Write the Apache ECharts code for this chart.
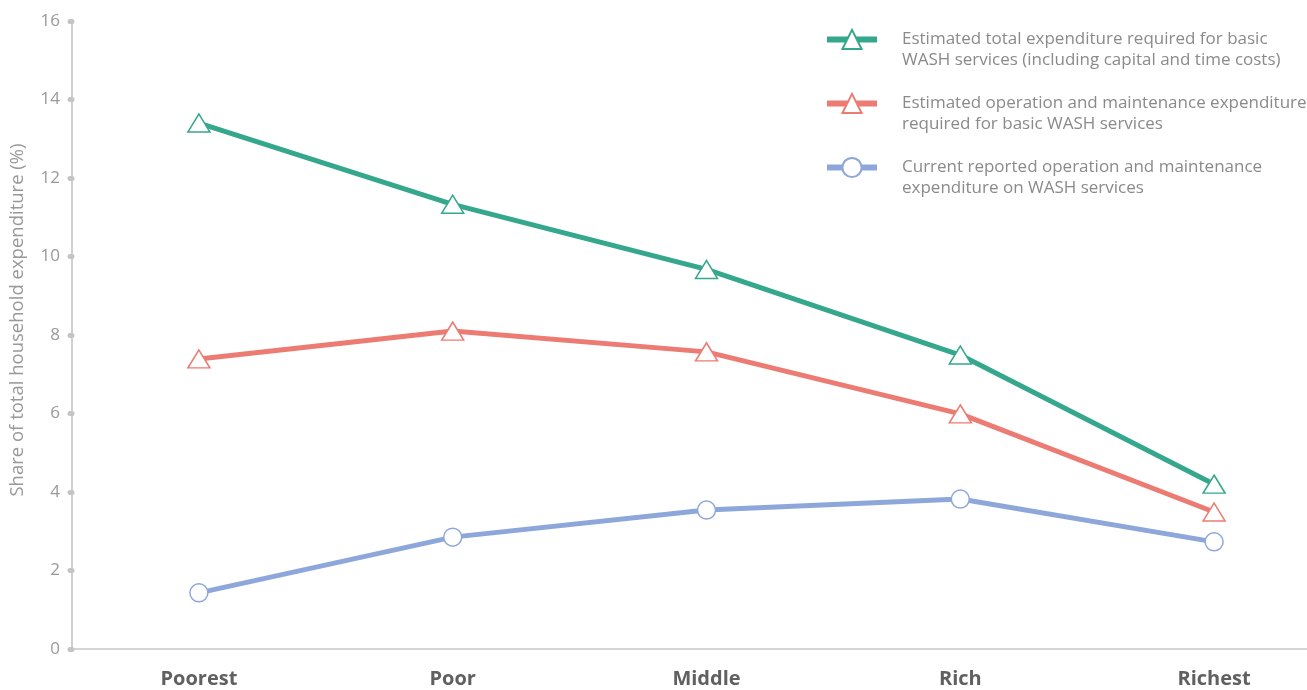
<!DOCTYPE html>
<html>
<head>
<meta charset="utf-8">
<script src="https://cdn.jsdelivr.net/npm/echarts@6/dist/echarts.min.js"></script>
<style>
  html, body { margin: 0; padding: 0; background: #fff; }
  #chart { width: 1307px; height: 690px; }
</style>
</head>
<body>
<div id="chart"></div>
<script>
  const groups = ['Poorest', 'Poor', 'Middle', 'Rich', 'Richest'];
  const totalRequired = [13.4, 11.33, 9.67, 7.49, 4.2];
  const omRequired = [7.39, 8.1, 7.57, 5.99, 3.49];
  const omReported = [1.43, 2.85, 3.54, 3.82, 2.73];
  const seriesNames = [
    'Estimated total expenditure required for basic\nWASH services (including capital and time costs)',
    'Estimated operation and maintenance expenditure\nrequired for basic WASH services',
    'Current reported operation and maintenance\nexpenditure on WASH services',
  ];
  const yTicks = { min: 0, max: 16, interval: 2 };

  const green = '#35a78c';
  const red = '#ec7c73';
  const blue = '#8ea7da';

  const lineSeries = (name, data, color, symbol, size) => ({
    name: name,
    type: 'line',
    data: data,
    symbol: symbol,
    symbolSize: size,
    showAllSymbol: true,
    lineStyle: { color: color, width: 5 },
    itemStyle: { color: '#fff', borderColor: color, borderWidth: 1.5 },
    emphasis: { disabled: true },
    z: 2,
  });

  const chart = echarts.init(document.getElementById('chart'));
  chart.setOption({
    animation: false,
    textStyle: { fontFamily: 'Open Sans' },
    grid: { left: 72, width: 1269, top: 21, bottom: 41, outerBoundsMode: 'none' },
    legend: {
      orient: 'vertical',
      left: 819,
      top: 3,
      itemWidth: 50,
      itemHeight: 24,
      itemGap: 1,
      selectedMode: false,
      lineStyle: { width: 6 },
      formatter: (name) => '\n' + name,
      textStyle: {
        fontFamily: 'Open Sans',
        fontSize: 17,
        color: '#8a8a8a',
        lineHeight: 21,
        padding: [0, 0, 0, 20],
      },
      data: seriesNames,
    },
    xAxis: {
      type: 'category',
      data: groups,
      boundaryGap: true,
      axisLine: { lineStyle: { color: '#c8c8c8', width: 1.5 } },
      axisTick: { show: false },
      axisLabel: {
        margin: 20,
        fontSize: 20,
        fontWeight: 'bold',
        color: '#606060',
        fontFamily: 'Open Sans',
      },
    },
    yAxis: {
      type: 'value',
      min: yTicks.min,
      max: yTicks.max,
      interval: yTicks.interval,
      name: 'Share of total household expenditure (%)',
      nameLocation: 'middle',
      nameGap: 45,
      nameTextStyle: { color: '#999', fontSize: 18.5, fontFamily: 'Open Sans', padding: [0, 0, 0, 30] },
      axisLine: { show: true, lineStyle: { color: '#cfcfcf', width: 2 } },
      axisTick: { show: true, length: 2, lineStyle: { color: '#c4c4c4', width: 5, cap: 'round' } },
      splitLine: { show: false },
      axisLabel: { color: '#999', fontSize: 17, margin: 12, fontFamily: 'Open Sans' },
    },
    series: [
      lineSeries(seriesNames[0], totalRequired, green, 'triangle', [22, 18]),
      lineSeries(seriesNames[1], omRequired, red, 'triangle', [22, 18]),
      lineSeries(seriesNames[2], omReported, blue, 'circle', 18),
    ],
  });
</script>
</body>
</html>
